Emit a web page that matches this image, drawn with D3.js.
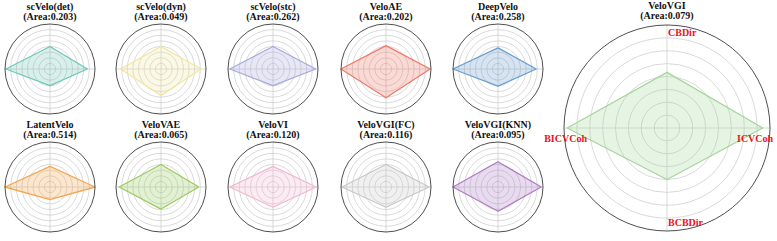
<!DOCTYPE html>
<html><head><meta charset="utf-8">
<script src="https://cdn.jsdelivr.net/npm/d3@7"></script>
<style>body{margin:0;background:#fff}svg{display:block}</style>
</head><body>
<svg id="c" width="777" height="241"></svg>
<script>
const methods = ["scVelo(det)","scVelo(dyn)","scVelo(stc)","VeloAE","DeepVelo","LatentVelo","VeloVAE","VeloVI","VeloVGI(FC)","VeloVGI(KNN)","VeloVGI"];
const areas = ["0.203","0.049","0.262","0.202","0.258","0.514","0.065","0.120","0.116","0.095","0.079"];
const axisNames = ["CBDir","ICVCoh","BCBDir","BICVCoh"];
const cbdir   = [0.50,0.50,0.50,0.52,0.47,0.46,0.50,0.46,0.50,0.56,0.54];
const icvcoh  = [0.83,0.89,0.95,0.98,0.85,1.00,0.84,0.96,0.96,0.96,0.93];
const bcbdir  = [0.37,0.59,0.37,0.64,0.38,0.28,0.49,0.45,0.45,0.54,0.50];
const bicvcoh = [0.98,0.90,0.96,1.00,1.00,1.00,0.93,0.96,0.98,1.00,0.97];
const colors = ["#74c7b6","#f2e6a0","#a9a9de","#f07a6a","#6b9fcf","#f4a74f","#9ccb62","#f3b7cf","#c8c8c8","#b07cc6","#a6d79c"];
const ringTicks = [0.125,0.25,0.375,0.5,0.625,0.75,0.875];

const svg = d3.select("#c");
const serif = "'Liberation Serif','Times New Roman',serif";

function radar(i, cx, cy, R, big) {
  const g = svg.append("g").attr("transform", `translate(${cx},${cy})`);
  const r = d3.scaleLinear().domain([0,1]).range([0,R]);
  const ang = d3.scalePoint().domain(axisNames).range([0, 2*Math.PI*3/4]);
  g.selectAll("circle.ring").data(ringTicks).join("circle")
    .attr("r", d => r(d)).attr("fill","none").attr("stroke","#cfcfcf").attr("stroke-width",0.8);
  g.selectAll("line.spoke").data(axisNames).join("line")
    .attr("x1",0).attr("y1",0)
    .attr("x2", d => r(1)*Math.sin(ang(d))).attr("y2", d => -r(1)*Math.cos(ang(d)))
    .attr("stroke","#cfcfcf").attr("stroke-width",0.8);
  const vals = [cbdir[i], icvcoh[i], bcbdir[i], bicvcoh[i]];
  const line = d3.lineRadial().angle((d,k)=>ang(axisNames[k])).radius(d=>r(d)).curve(d3.curveLinearClosed);
  g.append("path").attr("d", line(vals))
    .attr("fill", colors[i]).attr("fill-opacity", 0.28)
    .attr("stroke", colors[i]).attr("stroke-width", 1.3).attr("stroke-linejoin","round");
  g.append("circle").attr("r", r(1)).attr("fill","none").attr("stroke","#3a3a3a").attr("stroke-width",0.9);
  const t = svg.append("text").attr("font-family",serif).attr("font-weight","bold").attr("font-size",10)
    .attr("text-anchor","middle").attr("fill","#111");
  const base = big ? cy - R - 6 : cy - R - 4;
  t.append("tspan").attr("x",cx).attr("y",base - 10).text(methods[i]);
  t.append("tspan").attr("x",cx).attr("y",base).text(`(Area:${areas[i]})`);
  if (big) {
    const lab = g.append("g").attr("font-family",serif).attr("font-weight","bold").attr("font-size",10).attr("fill","#e8141c");
    lab.append("text").attr("x",1).attr("y",-R+11).text(axisNames[0]);
    lab.append("text").attr("x",R-33).attr("y",14).text(axisNames[1]);
    lab.append("text").attr("x",1).attr("y",R-5).text(axisNames[2]);
    lab.append("text").attr("x",-R+23).attr("y",14).attr("text-anchor","end").text(axisNames[3]);
  }
}

const colX = [50,161,273,386,498];
const rowY = [69,187];
for (let i = 0; i < 10; i++) {
  radar(i, colX[i%5], rowY[Math.floor(i/5)], 45, false);
}
radar(10, 667, 128, 103, true);
</script>
</body></html>
